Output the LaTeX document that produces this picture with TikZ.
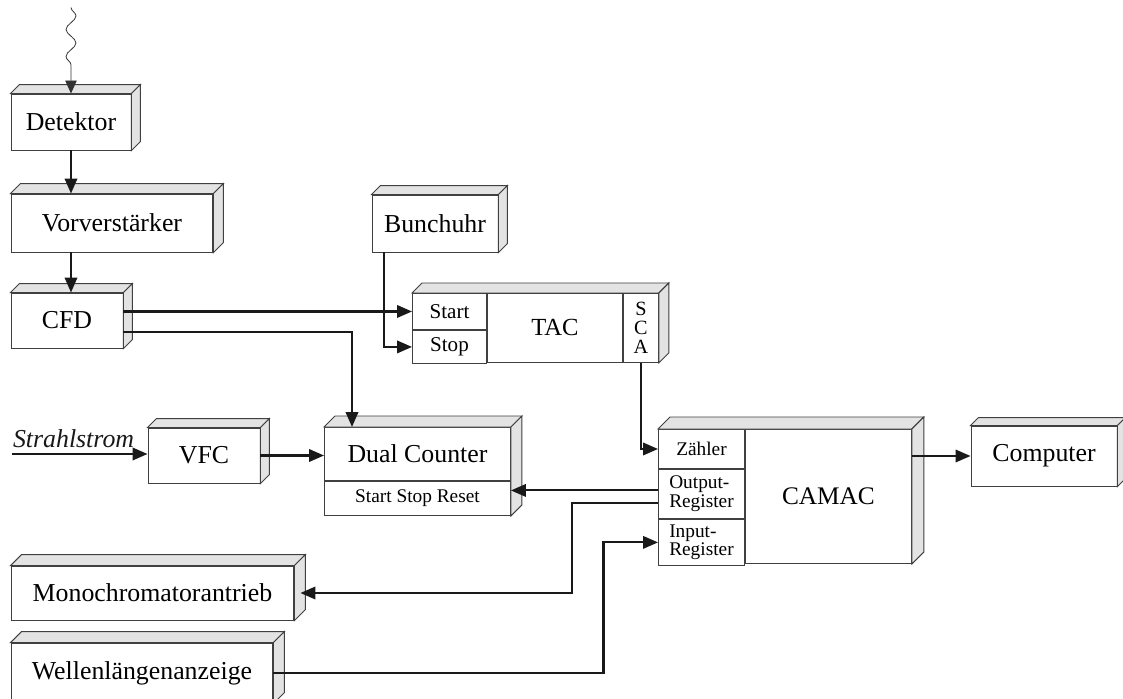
\documentclass[tikz,border=0pt]{standalone}
\usepackage{fontspec}
\setmainfont{Liberation Serif}
\usetikzlibrary{arrows.meta, calc, decorations.pathmorphing}
\tikzset{
    blk/.style={draw=black!75, fill=white, line width=0.55pt, inner sep=0pt, font=\fontsize{14.7}{17}\selectfont},
    cell/.style={blk, align=center, font=\fontsize{11}{9.5}\selectfont},
    face/.style={draw=black!75, fill=black!11, line width=0.55pt},
    sig/.style={-{Triangle[length=3mm, width=2.5mm]}, line width=1.2pt, black!90},
    wave/.style={-{Triangle[length=2.6mm, width=2.3mm]}, black!80, line width=0.45pt, decorate,
        decoration={snake, amplitude=0.1cm, segment length=0.54cm, post length=0.36cm}}
}
% top and side face of a box: [depth]{nw}{ne}{se}
\newcommand{\boxdepth}[4][10]{%
    \filldraw[face] (#2) -- ++(#1,-#1) -- ($(#3)+(#1,-#1)$) -- (#3) -- cycle;
    \filldraw[face] (#3) -- ++(#1,-#1) -- ($(#4)+(#1,-#1)$) -- (#4) -- cycle;
}

\begin{document}
\begin{tikzpicture}[x=0.02cm, y=-0.02cm]
    \useasboundingbox (0,0) rectangle (1123,699);
    % --- Detector chain ---
    \node[blk, minimum width=2.4cm, minimum height=1.12cm] (det) at (71,122) {Detektor};
    \boxdepth[9]{det.north west}{det.north east}{det.south east}
    \node[blk, minimum width=4.04cm, minimum height=1.16cm] (vor) at (112,223) {Vorverstärker};
    \boxdepth{vor.north west}{vor.north east}{vor.south east}
    \node[blk, minimum width=2.24cm, minimum height=1.1cm] (cfd) at (67,320.5) {CFD};
    \boxdepth[9]{cfd.north west}{cfd.north east}{cfd.south east}
    \node[blk, minimum width=2.52cm, minimum height=1.14cm] (bunch) at (435,223.5) {Bunchuhr};
    \boxdepth[9]{bunch.north west}{bunch.north east}{bunch.south east}

    % --- TAC ---
    \node[cell, font=\fontsize{12}{14}\selectfont, minimum width=1.48cm, minimum height=0.72cm, anchor=north west] (tacStart) at (412,293) {Start};
    \node[cell, font=\fontsize{12}{14}\selectfont, minimum width=1.48cm, minimum height=0.66cm, anchor=north west] (tacStop) at (tacStart.south west) {Stop};
    \node[blk, font=\fontsize{14}{16}\selectfont, minimum width=2.7cm, minimum height=1.38cm, anchor=north west] (tacMain) at (tacStart.north east) {TAC};
    \node[cell, font=\fontsize{11.5}{11}\selectfont, minimum width=0.7cm, minimum height=1.38cm, anchor=north west] (tacSCA) at (tacMain.north east) {S\\C\\A};
    \boxdepth{tacStart.north west}{tacSCA.north east}{tacSCA.south east}

    % --- Counter ---
    \node[blk, minimum width=2.24cm, minimum height=1.1cm] (vfc) at (204,455.5) {VFC};
    \boxdepth[9]{vfc.north west}{vfc.north east}{vfc.south east}
    \node[blk, minimum width=3.72cm, minimum height=1.06cm, anchor=north west] (dual) at (324,427) {Dual Counter};
    \node[cell, minimum width=3.72cm, minimum height=0.68cm, anchor=north west] (dualSub) at (dual.south west) {Start Stop Reset};
    \boxdepth[11]{dual.north west}{dual.north east}{dualSub.south east}

    % --- CAMAC ---
    \node[cell, minimum width=1.72cm, minimum height=0.78cm, anchor=north west] (zaehler) at (658,429) {Zähler};
    \node[cell, align=left, minimum width=1.72cm, minimum height=0.98cm, anchor=north west] (outReg) at (zaehler.south west) {Output-\\Register};
    \node[cell, align=left, minimum width=1.72cm, minimum height=0.92cm, anchor=north west] (inReg) at (outReg.south west) {Input-\\Register};
    \node[blk, font=\fontsize{14.4}{16}\selectfont, minimum width=3.32cm, minimum height=2.68cm, anchor=north west] (camMain) at (zaehler.north east) {CAMAC};
    \boxdepth[12]{zaehler.north west}{camMain.north east}{camMain.south east}
    \node[blk, minimum width=2.92cm, minimum height=1.2cm] (comp) at (1044,456) {Computer};
    \boxdepth[8]{comp.north west}{comp.north east}{comp.south east}

    % --- Monochromator ---
    \node[blk, minimum width=5.66cm, minimum height=1.08cm] (mono) at (152.5,593) {Monochromatorantrieb};
    \boxdepth[11]{mono.north west}{mono.north east}{mono.south east}
    \node[blk, minimum width=5.24cm, minimum height=1.2cm] (welle) at (142,673) {Wellenlängenanzeige};
    \boxdepth[11]{welle.north west}{welle.north east}{welle.south east}

    % --- Signals ---
    \coordinate (src) at ($(det.north)+(0,-86)$);
    \draw[wave] (src) -- (det.north);
    \draw[sig] (det.south) -- (det.south |- vor.north);
    \draw[sig] (det.south |- vor.south) -- (det.south |- cfd.north);
    \draw[sig] (cfd.east |- tacStart.west) -- (tacStart.west);
    \draw[sig] ([yshift=-0.23cm]cfd.east) -| ([xshift=0.56cm]dual.north west);
    \draw[sig] ([xshift=-1.02cm]bunch.south) |- (tacStop.west);
    \draw[sig] (tacSCA.south) |- (zaehler.west);
    \draw[sig] (camMain.east |- comp.west) -- (comp.west);
    \coordinate (strahlIn) at (12,454);
    \draw[sig] (strahlIn) -- (strahlIn -| vfc.west)
        node[pos=0, anchor=south west, inner xsep=0pt, inner ysep=3pt, font=\fontsize{14.7}{17}\selectfont\itshape] (strahl) {Strahlstrom};
    \draw[sig] (vfc.east) -- (vfc.east -| dual.west);
    \draw[sig] ([yshift=0.07cm]outReg.west) -- ([yshift=0.07cm]outReg.west -| dualSub.east);
    \draw[sig] ([yshift=-0.19cm]outReg.west) -- ++(-86,0) |- ([xshift=0.12cm]mono.east);
    \draw[sig] (welle.east) -- ++(330,0) |- (inReg.west);
\end{tikzpicture}
\end{document}
